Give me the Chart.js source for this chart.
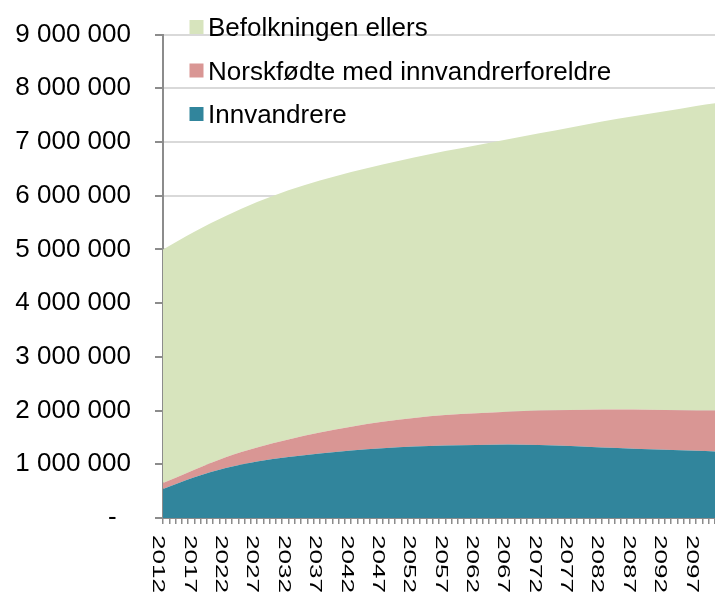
<!DOCTYPE html>
<html lang="no">
<head>
<meta charset="utf-8">
<title>Befolkning etter innvandringskategori</title>
<script src="https://cdn.jsdelivr.net/npm/chart.js@4/dist/chart.umd.min.js"></script>
<style>
  html, body { margin: 0; padding: 0; background: #fff; }
  canvas { display: block; }
</style>
</head>
<body>
<canvas id="befolkning" width="715" height="594"></canvas>
<script>
const FONT = '"Liberation Sans", Arial, Helvetica, sans-serif';

// years (every labelled year + the last one)
const years = [2012, 2017, 2022, 2027, 2032, 2037, 2042, 2047, 2052, 2057, 2062, 2067, 2072, 2077, 2082, 2087, 2092, 2097, 2100];
const innvandrere = [540000, 760000, 930000, 1050000, 1135000, 1200000, 1255000, 1300000, 1330000, 1350000, 1360000, 1370000, 1360000, 1340000, 1310000, 1290000, 1270000, 1250000, 1240000];
const norskfodte = [110000, 140000, 200000, 260000, 325000, 390000, 445000, 490000, 530000, 565000, 590000, 610000, 640000, 670000, 710000, 730000, 740000, 750000, 760000];
const ellers = [4350000, 4430000, 4490000, 4570000, 4640000, 4690000, 4740000, 4790000, 4850000, 4915000, 4990000, 5070000, 5160000, 5260000, 5360000, 5460000, 5560000, 5670000, 5720000];

const xTickLabels = ['2012', '2017', '2022', '2027', '2032', '2037', '2042', '2047', '2052', '2057', '2062', '2067', '2072', '2077', '2082', '2087', '2092', '2097'];

function toPoints(arr) {
  return years.map((year, i) => ({x: year, y: arr[i]}));
}

function formatNumber(v) {
  if (v === 0) return '-  ';
  return String(v).replace(/\B(?=(\d{3})+(?!\d))/g, ' ');
}

// x labels read top-to-bottom, so they are drawn by hand at the scale's tick pixels
const xLabelPlugin = {
  id: 'xLabels',
  afterDraw(chart) {
    const {ctx, chartArea} = chart;
    const xScale = chart.scales.x;
    ctx.save();
    ctx.font = '26px ' + FONT;
    ctx.fillStyle = '#000';
    ctx.textAlign = 'left';
    ctx.textBaseline = 'alphabetic';
    xTickLabels.forEach(label => {
      const px = xScale.getPixelForValue(Number(label));
      ctx.save();
      ctx.translate(px - 9.6, chartArea.bottom + 17);
      ctx.rotate(Math.PI / 2);
      ctx.scale(1, 0.65);
      ctx.fillText(label, 0, 0);
      ctx.restore();
    });
    ctx.restore();
  }
};

// legend sits inside the plot, top left, no box
const legendPlugin = {
  id: 'innerLegend',
  afterDraw(chart) {
    const {ctx, chartArea} = chart;
    const items = chart.data.datasets.slice().reverse();
    ctx.save();
    ctx.font = '26px ' + FONT;
    ctx.textAlign = 'left';
    ctx.textBaseline = 'alphabetic';
    items.forEach((ds, i) => {
      const cy = 27 + i * 43.5;
      ctx.fillStyle = ds.backgroundColor;
      ctx.fillRect(chartArea.left + 26.5, cy - 7, 14, 14);
      ctx.fillStyle = '#000';
      ctx.fillText(ds.label, chartArea.left + 45, cy + 9);
    });
    ctx.restore();
  }
};

Chart.defaults.font.family = FONT;
Chart.defaults.font.size = 26;
Chart.defaults.color = '#000';

const ctx = document.getElementById('befolkning').getContext('2d');

const chart = new Chart(ctx, {
  type: 'line',
  data: {
    datasets: [
      {
        label: 'Innvandrere',
        data: toPoints(innvandrere),
        backgroundColor: '#31859c',
        borderColor: 'rgba(0,0,0,0)',
        borderWidth: 0,
        pointRadius: 0,
        fill: 'origin',
        cubicInterpolationMode: 'monotone'
      },
      {
        label: 'Norskfødte med innvandrerforeldre',
        data: toPoints(norskfodte),
        backgroundColor: '#d99694',
        borderColor: 'rgba(0,0,0,0)',
        borderWidth: 0,
        pointRadius: 0,
        fill: '-1',
        cubicInterpolationMode: 'monotone'
      },
      {
        label: 'Befolkningen ellers',
        data: toPoints(ellers),
        backgroundColor: '#d7e4bd',
        borderColor: 'rgba(0,0,0,0)',
        borderWidth: 0,
        pointRadius: 0,
        fill: '-1',
        cubicInterpolationMode: 'monotone'
      }
    ]
  },
  options: {
    responsive: false,
    animation: false,
    devicePixelRatio: 1,
    layout: {
      padding: {left: 0, right: 0, top: 34.5, bottom: 70}
    },
    scales: {
      x: {
        type: 'linear',
        min: 2012,
        max: 2100,
        ticks: {
          display: false,
          stepSize: 1
        },
        grid: {
          drawOnChartArea: false,
          drawTicks: true,
          tickLength: 6,
          tickColor: '#8c8c8c',
          lineWidth: 1.5
        },
        border: {
          display: true,
          color: '#8c8c8c',
          width: 2
        }
      },
      y: {
        stacked: true,
        min: 0,
        max: 9000000,
        afterFit: scale => {
          scale.width = 163;
          scale.paddingTop = 0;
          scale.paddingBottom = 0;
        },
        ticks: {
          stepSize: 1000000,
          padding: 24,
          color: '#000',
          font: {size: 26},
          callback: value => formatNumber(value)
        },
        grid: {
          color: '#d9d9d9',
          lineWidth: 2,
          tickColor: '#8c8c8c',
          tickLength: 8
        },
        border: {
          display: true,
          color: '#8c8c8c',
          width: 2
        }
      }
    },
    plugins: {
      legend: {display: false},
      tooltip: {enabled: false}
    }
  },
  plugins: [xLabelPlugin, legendPlugin]
});
</script>
</body>
</html>
